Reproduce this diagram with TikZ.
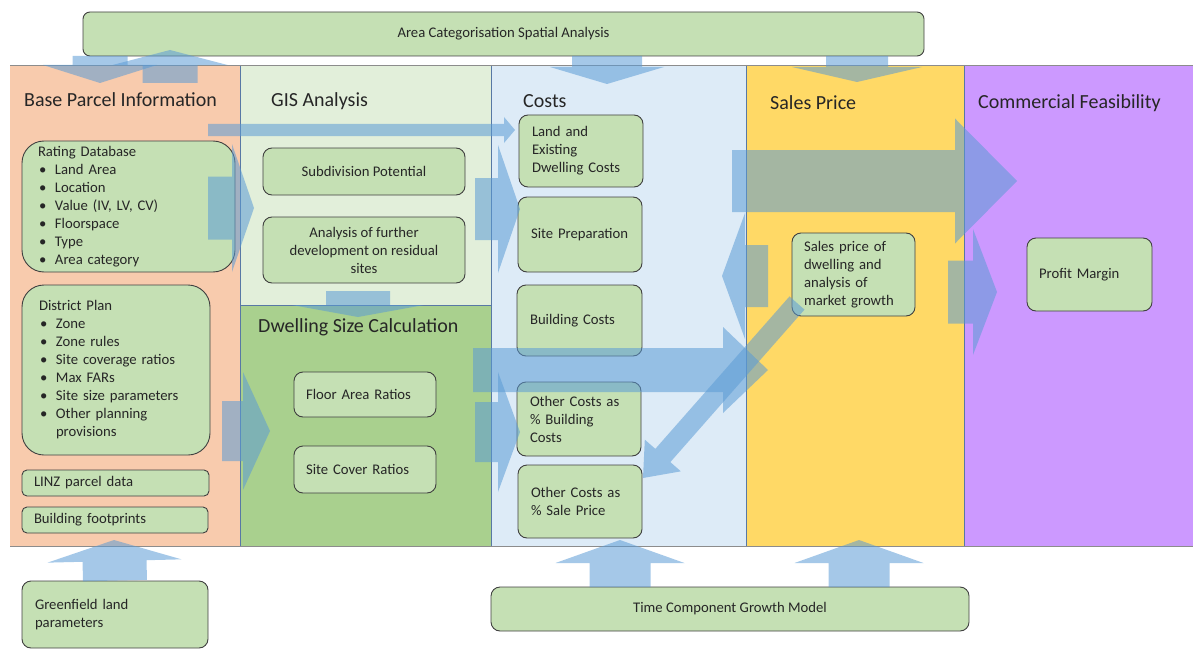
\documentclass[tikz,border=0pt]{standalone}
\usepackage{fontspec}
\setmainfont{Carlito}
\usepackage{tikz}
\usetikzlibrary{calc}

\definecolor{parcelbg}{HTML}{F8CBAD}
\definecolor{gisbg}{HTML}{E2EFDA}
\definecolor{dwellbg}{HTML}{A9D08E}
\definecolor{costbg}{HTML}{DDEBF7}
\definecolor{salesbg}{HTML}{FFD966}
\definecolor{commbg}{HTML}{CC99FF}
\definecolor{boxgreen}{HTML}{C5E0B4}
\definecolor{flowblue}{HTML}{5B9BD5}
\definecolor{colline}{RGB}{88,120,165}

\newcommand{\bodyfont}{\fontsize{14.7}{18}\selectfont}
\newcommand{\itm}{\makebox[17pt][l]{\hspace{1pt}\textbullet}}
% block arrow: from, to, shaft half width, head half width, head length
\newcommand{\blockarrow}[5]{%
  \coordinate (ba) at ($(#2)!#5pt!(#1)$);
  \fill[flow] ($(#1)!#3pt!90:(#2)$) -- ($(ba)!#3pt!90:(#2)$)
    -- ($(ba)!#4pt!90:(#2)$) -- (#2) -- ($(ba)!#4pt!-90:(#2)$)
    -- ($(ba)!#3pt!-90:(#2)$) -- ($(#1)!#3pt!-90:(#2)$) -- cycle;}

\begin{document}
\begin{tikzpicture}[x=1pt, y=-1pt,
    box/.style={draw=black!75, fill=boxgreen, line width=0.9pt,
                rounded corners=9pt, inner xsep=12pt, inner ysep=0pt,
                align=left, font=\bodyfont, text=black!85},
    colhead/.style={anchor=west, inner sep=0pt,
                    font=\fontsize{20}{24}\selectfont, text=black!85},
    flow/.style={fill=flowblue, fill opacity=0.55}]
    \useasboundingbox (0,0) rectangle (1193,650);

    % column backgrounds
    \fill[parcelbg] (10,65) rectangle (240,546);
    \fill[gisbg] (240,65) rectangle (491,305);
    \fill[dwellbg] (240,305) rectangle (491,546);
    \fill[costbg] (491,65) rectangle (746,546);
    \fill[salesbg] (746,65) rectangle (964,546);
    \fill[commbg] (964,65) rectangle (1193,546);
    \foreach \x in {240,491,746,964}
      \draw[colline, line width=0.8pt] (\x,65) -- (\x,546);
    \draw[colline, line width=0.8pt] (240,305) -- (491,305);
    \draw[black!45, line width=0.8pt] (10,65) -- (1193,65) (10,546) -- (1193,546);

    \node[colhead] (parcelhead) at (24,100) {Base Parcel Information};
    \node[colhead] (gishead) at (271,101) {GIS Analysis};
    \node[colhead] (costhead) at (523,101) {Costs};
    \node[colhead] (saleshead) at (770,103) {Sales Price};
    \node[colhead] (commhead) at (978,103) {Commercial Feasibility};
    \node[colhead] (dwellhead) at (258,327) {Dwelling Size Calculation};

    \node[box, align=center, minimum width=841pt, minimum height=44pt,
          rounded corners=7pt] (areacat) at (503.5,34)
      {Area Categorisation Spatial Analysis};

    % base parcel information
    \node[box, inner xsep=16pt, text width=181pt, minimum height=131pt,
          rounded corners=22pt] (ratingdb) at (128.5,206.5)
      {Rating Database\\ \itm Land Area\\ \itm Location\\
       \itm Value (IV, LV, CV)\\ \itm Floorspace\\ \itm Type\\
       \itm Area category};
    \node[box, inner xsep=17pt, text width=154pt, minimum height=170pt,
          rounded corners=22pt] (districtplan) at (116,370)
      {District Plan\\ \itm Zone\\ \itm Zone rules\\
       \itm Site coverage ratios\\ \itm Max FARs\\
       \itm Site size parameters\\ \itm Other planning\\
       \makebox[17pt]{}provisions};
    \node[box, text width=163pt, minimum height=26pt, rounded corners=5pt]
      (linz) at (115.5,483) {LINZ parcel data};
    \node[box, text width=162pt, minimum height=26pt, rounded corners=5pt]
      (footprints) at (115,520) {Building footprints};

    % GIS analysis and dwelling size
    \node[box, align=center, minimum width=202pt, minimum height=47pt]
      (subdiv) at (364,171.5) {Subdivision Potential};
    \node[box, align=center, minimum width=202pt, minimum height=66pt]
      (residual) at (364,250)
      {Analysis of further\\development on residual\\sites};
    \node[box, text width=118pt, minimum height=45pt]
      (floorarea) at (365,394.5) {Floor Area Ratios};
    \node[box, text width=118pt, minimum height=47pt]
      (sitecover) at (365,469.5) {Site Cover Ratios};

    % costs
    \node[box, inner xsep=13pt, text width=98pt, minimum height=72pt]
      (landcost) at (581,151) {Land and\\Existing\\Dwelling Costs};
    \node[box, inner xsep=13pt, text width=98pt, minimum height=75pt]
      (siteprep) at (580,234.5) {Site Preparation};
    \node[box, inner xsep=13pt, text width=99pt, minimum height=71pt]
      (buildcost) at (579.5,320.5) {Building Costs};
    \node[box, inner xsep=13pt, text width=98pt, minimum height=74pt]
      (otherbuild) at (579,419) {Other Costs as\\\% Building\\Costs};
    \node[box, inner xsep=13pt, text width=98pt, minimum height=73pt]
      (othersale) at (580,501.5) {Other Costs as\\\% Sale Price};

    % sales price and feasibility
    \node[box, text width=99pt, minimum height=83pt]
      (salesbox) at (853.5,274.5)
      {Sales price of\\dwelling and\\analysis of\\market growth};
    \node[box, text width=101pt, minimum height=73pt]
      (profit) at (1089.5,274.5) {Profit Margin};

    % inputs below
    \node[box, inner xsep=13pt, text width=160pt, minimum height=67pt]
      (greenfield) at (115,614.5) {Greenfield land\\parameters};
    \node[box, align=center, minimum width=478pt, minimum height=44pt]
      (timegrowth) at (730,609) {Time Component Growth Model};

    % flow arrows
    \coordinate (acl) at (100,56);   \coordinate (bpl) at (100,83);
    \coordinate (bpr) at (170,83);   \coordinate (acm) at (170,50);
    \coordinate (acc) at (607,56);   \coordinate (cst) at (607,84);
    \coordinate (acs) at (857,56);   \coordinate (sls) at (857,82);
    \coordinate (thin0) at (208,130); \coordinate (thin1) at (515,130);
    \coordinate (rd0) at (208,208);  \coordinate (rd1) at (254,208);
    \coordinate (dp0) at (222,431);  \coordinate (dp1) at (270,431);
    \coordinate (gd0) at (358,291);  \coordinate (gd1) at (358,317);
    \coordinate (gc0) at (475,209);  \coordinate (gc1) at (520,209);
    \coordinate (dc0) at (475,432);  \coordinate (dc1) at (520,432);
    \coordinate (ds0) at (473,370);  \coordinate (ds1) at (768,370);
    \coordinate (sc0) at (768,276);  \coordinate (sc1) at (722,276);
    \coordinate (cf0) at (732,181);  \coordinate (cf1) at (1017,181);
    \coordinate (sf0) at (948,292);  \coordinate (sf1) at (997,292);
    \coordinate (sd0) at (797,303);  \coordinate (sd1) at (643,478);
    \coordinate (gf1) at (114,540);
    \coordinate (tg0) at (620,587);  \coordinate (tg1) at (620,540);
    \coordinate (ts0) at (859,587);  \coordinate (ts1) at (859,540);

    \blockarrow{acl}{bpl}{27.5}{57}{18}
    \blockarrow{bpr}{acm}{27.5}{57.5}{15}
    \blockarrow{acc}{cst}{35}{57}{17}
    \blockarrow{acs}{sls}{31}{65}{15}
    \blockarrow{thin0}{thin1}{6}{13}{11}
    \blockarrow{rd0}{rd1}{31.5}{64}{22}
    \blockarrow{dp0}{dp1}{30}{59}{27}
    \blockarrow{gd0}{gd1}{32}{66}{12}
    \blockarrow{gc0}{gc1}{31}{64}{22}
    \blockarrow{dc0}{dc1}{30}{60}{22}
    \blockarrow{ds0}{ds1}{22}{43}{45}
    \blockarrow{sc0}{sc1}{31}{63}{23}
    \blockarrow{cf0}{cf1}{31}{62.5}{62}
    \blockarrow{sf0}{sf1}{31.5}{63}{24}
    \blockarrow{sd0}{sd1}{10}{24}{30}
    \blockarrow{greenfield.north}{gf1}{32}{67}{21}
    \blockarrow{tg0}{tg1}{30.5}{64.5}{23}
    \blockarrow{ts0}{ts1}{30.5}{64.5}{23}
\end{tikzpicture}
\end{document}
